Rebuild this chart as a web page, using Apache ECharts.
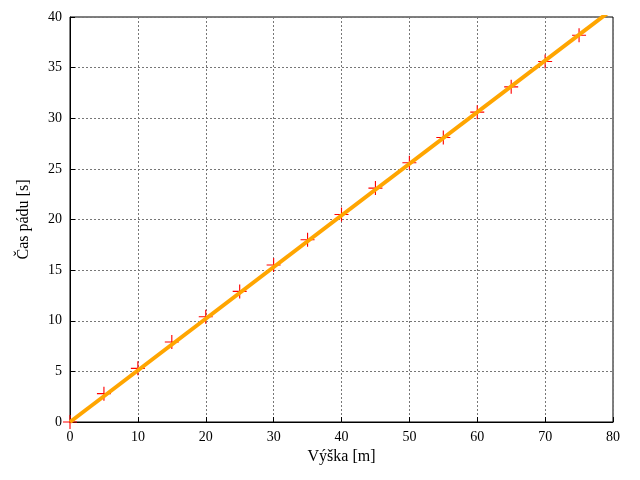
<!DOCTYPE html>
<html>
<head>
<meta charset="utf-8">
<script src="https://cdn.jsdelivr.net/npm/echarts@6/dist/echarts.min.js"></script>
<style>html,body{margin:0;background:#fff}#c{width:640px;height:480px}</style>
</head>
<body>
<div id="c"></div>
<script>
var heights = [0, 5, 10, 15, 20, 25, 30, 35, 40, 45, 50, 55, 60, 65, 70, 75];
var times = [0, 2.8, 5.3, 7.9, 10.4, 12.9, 15.5, 18.0, 20.5, 23.1, 25.6, 28.1, 30.6, 33.1, 35.6, 38.2];
var fitX = [0, 80];
var fitY = [0, 40.8];

var font = 'Liberation Serif';
var chart = echarts.init(document.getElementById('c'));
var cross = 'path://M0,4.6H10V5.4H0Z M4.6,0H5.4V10H4.6Z';
function axisCommon(name, gap) {
  return {
    min: 0, interval: 5, name: name, nameLocation: 'middle', nameGap: gap,
    nameTextStyle: {fontFamily: font, fontSize: 16, color: '#000'},
    axisLine: {show: true, lineStyle: {color: '#000', width: 1}},
    axisTick: {inside: true, length: 5, lineStyle: {color: '#000'}},
    axisLabel: {fontFamily: font, fontSize: 14, color: '#000'},
    splitLine: {show: true, lineStyle: {color: '#777', type: [2, 2], width: 1}}
  };
}
var xa = axisCommon('Výška [m]', 25); xa.max = 80; xa.interval = 10;
var ya = axisCommon('Čas pádu [s]', 38); ya.max = 40;
chart.setOption({
  animation: false,
  grid: {left: 70, right: 27, top: 17, bottom: 58, show: true, borderColor: '#000', borderWidth: 1},
  xAxis: xa,
  yAxis: ya,
  series: [
    {type: 'scatter', data: heights.map(function (h, i) { return [h, times[i]]; }),
     symbol: cross, symbolSize: 14, itemStyle: {color: '#ff0000', opacity: 1}, z: 2},
    {type: 'line', data: fitX.map(function (x, i) { return [x, fitY[i]]; }),
     showSymbol: false, lineStyle: {color: '#ffa500', width: 4}, z: 3, clip: true}
  ]
});
</script>
</body>
</html>
